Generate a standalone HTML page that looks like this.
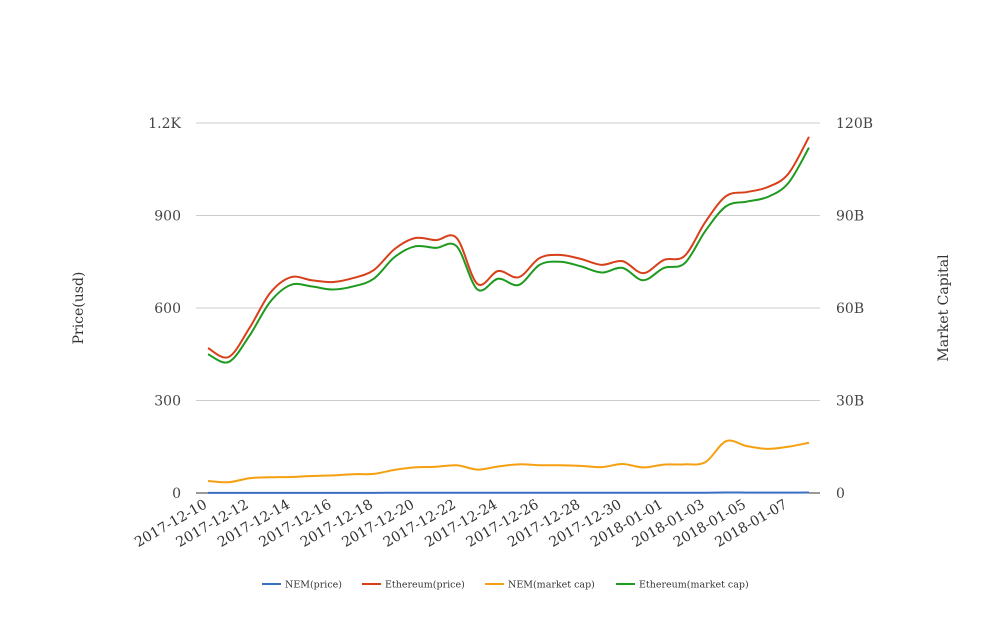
<!DOCTYPE html>
<html><head><meta charset="utf-8"><style>
body{margin:0;background:#fff;}
svg{font-family:"DejaVu Serif","Liberation Serif",serif;}
</style></head><body>
<svg id="chart" width="1008" height="616"></svg>
<script>
const dates=["2017-12-10","2017-12-11","2017-12-12","2017-12-13","2017-12-14","2017-12-15","2017-12-16","2017-12-17","2017-12-18","2017-12-19","2017-12-20","2017-12-21","2017-12-22","2017-12-23","2017-12-24","2017-12-25","2017-12-26","2017-12-27","2017-12-28","2017-12-29","2017-12-30","2017-12-31","2018-01-01","2018-01-02","2018-01-03","2018-01-04","2018-01-05","2018-01-06","2018-01-07","2018-01-08"];
const nemPrice=[0.35,0.33,0.4,0.45,0.45,0.5,0.52,0.55,0.56,0.7,0.75,0.78,0.82,0.7,0.78,0.85,0.82,0.82,0.8,0.76,0.85,0.75,0.83,0.85,0.95,1.5,1.4,1.3,1.35,1.5];
const ethPrice=[470,441,535,649,700,690,684,697,723,791,827,820,827,678,720,700,762,772,759,740,752,713,756,769,879,963,976,992,1035,1155];
const nemCap=[3.9,3.5,4.8,5.1,5.2,5.5,5.7,6.1,6.2,7.5,8.3,8.5,9,7.6,8.6,9.3,9,9,8.8,8.4,9.4,8.3,9.2,9.3,10,16.8,15.2,14.3,15,16.3];
const ethCap=[45,42.5,51,62,67.5,67,66,67,69.5,76.5,80,79.5,80,66,69.5,67.5,74,75,73.5,71.5,73,69,73,74.5,85,93,94.5,96,100.5,112];
const leftTicks=[0,300,600,900,1200];
const leftTickLabels=["0","300","600","900","1.2K"];
const rightTicks=[0,30,60,90,120];
const rightTickLabels=["0","30B","60B","90B","120B"];

const NS="http://www.w3.org/2000/svg";
const svg=document.getElementById('chart');
const X0=208,X1=809,Y0=493,Y1=123;
const x=i=>X0+(X1-X0)*i/(dates.length-1);
const yL=v=>Y0-(Y0-Y1)*v/1200;
const yR=v=>Y0-(Y0-Y1)*v/120;
function mk(t,a){const e=document.createElementNS(NS,t);for(const k in a)e.setAttribute(k,a[k]);svg.appendChild(e);return e;}
leftTicks.forEach((t,i)=>{
  if(i>0){const g=mk('line',{x1:196,x2:820,y1:yL(t),y2:yL(t),stroke:'#ccc','stroke-width':1});
  
  }
  const l=mk('text',{x:181,y:yL(t)+5,'text-anchor':'end','font-size':14,fill:'#444'});l.textContent=leftTickLabels[i];
  
  
});
rightTicks.forEach((t,i)=>{
  const l=mk('text',{x:836,y:yR(t)+5,'text-anchor':'start','font-size':14,fill:'#444'});l.textContent=rightTickLabels[i];
  
  
});
const ax=mk('line',{x1:196,x2:820,y1:Y0,y2:Y0,stroke:'#333','stroke-width':1});


dates.forEach((d,i)=>{if(i%2)return;
  const t=mk('text',{x:x(i),y:Y0+14,'text-anchor':'end','font-size':14,fill:'#333',transform:`rotate(-30 ${x(i)} ${Y0+14})`});t.textContent=d;
  
  
});
function path(vals,sc){const p=vals.map((v,i)=>[x(i),sc(v)]);let d=`M${p[0][0]},${p[0][1]}`;
  for(let i=0;i<p.length-1;i++){const a=p[i-1]||p[i],b=p[i],c=p[i+1],e=p[i+2]||c;
   d+=` C${b[0]+(c[0]-a[0])/6},${b[1]+(c[1]-a[1])/6} ${c[0]-(e[0]-b[0])/6},${c[1]-(e[1]-b[1])/6} ${c[0]},${c[1]}`;}
  return d;}
const series=[[nemPrice,yL,'#3a6fc4','nem-price-line'],[ethPrice,yL,'#d8401a','ethereum-price-line'],[nemCap,yR,'#f5a010','nem-market-cap-line'],[ethCap,yR,'#1e9a1e','ethereum-market-cap-line']];
series.forEach(s=>{const p=mk('path',{d:path(s[0],s[1]),fill:'none',stroke:s[2],'stroke-width':2});
  
  });
const t1=mk('text',{x:0,y:0,'font-size':14,fill:'#333','text-anchor':'middle',transform:'translate(83 308) rotate(-90)'});t1.textContent='Price(usd)';


const t2=mk('text',{x:0,y:0,'font-size':14,fill:'#333','text-anchor':'middle',transform:'translate(948 308) rotate(-90)'});t2.textContent='Market Capital';


const leg=[['NEM(price)',262,'#3a6fc4'],['Ethereum(price)',362,'#d8401a'],['NEM(market cap)',485,'#f5a010'],['Ethereum(market cap)',616,'#1e9a1e']];
leg.forEach(l=>{const ln=mk('line',{x1:l[1],x2:l[1]+19,y1:584,y2:584,stroke:l[2],'stroke-width':2});
  
  
  const t=mk('text',{x:l[1]+23,y:587.5,'font-size':9.5,fill:'#333'});t.textContent=l[0];
  
  });
</script>
</body></html>
